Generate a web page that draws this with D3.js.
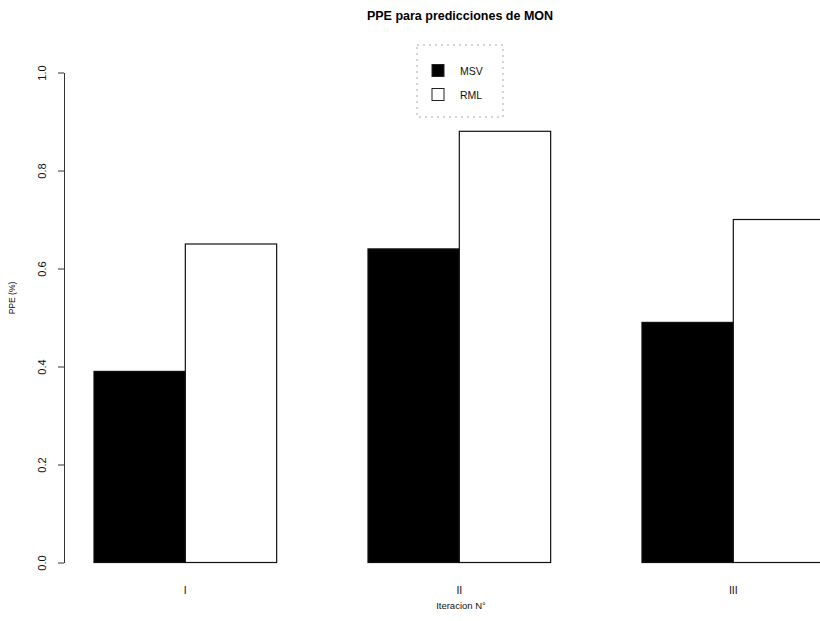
<!DOCTYPE html>
<html>
<head>
<meta charset="utf-8">
<script src="https://cdn.jsdelivr.net/npm/d3@7"></script>
<style>
  html, body { margin: 0; padding: 0; background: #fff; }
  svg { display: block; font-family: "Liberation Sans", Arial, sans-serif; }
</style>
</head>
<body>
<svg id="chart" width="820" height="621"></svg>
<script>
// Iterations and PPE values per method
const iterations = ["I", "II", "III"];
const seriesNames = ["MSV", "RML"];
const msvValues = [0.39, 0.64, 0.49];
const rmlValues = [0.65, 0.88, 0.70];
const yTicks = [0.0, 0.2, 0.4, 0.6, 0.8, 1.0];
const seriesFill = ["#000000", "#ffffff"];

const svg = d3.select("#chart");

// Bar slots: each bar is one unit wide, groups separated by one empty unit
const x = d3.scaleLinear().domain([1, 9]).range([94, 94 + 8 * 91.33]);
const y = d3.scaleLinear().domain([0, 1]).range([562.5, 72.5]);

const rows = iterations.map((it, i) => ({
  label: it,
  start: 1 + i * 3,
  values: [msvValues[i], rmlValues[i]]
}));

// Bars
const groups = svg.append("g").selectAll("g").data(rows).join("g");
groups.selectAll("rect")
  .data(d => d.values.map((v, j) => ({ v, j, left: d.start + j })))
  .join("rect")
  .attr("x", d => x(d.left))
  .attr("y", d => y(d.v))
  .attr("width", d => x(d.left + 1) - x(d.left))
  .attr("height", d => y(0) - y(d.v))
  .attr("fill", d => seriesFill[d.j])
  .attr("stroke", "#111")
  .attr("stroke-width", 1.2);

// Category labels under each group
svg.append("g").selectAll("text").data(rows).join("text")
  .attr("x", d => x(d.start + 1))
  .attr("y", 594)
  .attr("text-anchor", "middle")
  .attr("font-size", 10.5)
  .attr("fill", "#111")
  .text(d => d.label);

// Y axis with vertical tick labels
const yAxis = svg.append("g")
  .attr("transform", "translate(64,0)")
  .call(d3.axisLeft(y).tickValues(yTicks).tickSize(6).tickSizeOuter(0).tickFormat(d3.format(".1f")));
yAxis.select(".domain").attr("stroke", "#333");
yAxis.selectAll(".tick line").attr("stroke", "#333");
yAxis.selectAll(".tick text")
  .attr("x", 0).attr("y", 0).attr("dy", null)
  .attr("text-anchor", "middle")
  .attr("transform", "translate(-18,0) rotate(-90)")
  .attr("font-size", 11)
  .attr("font-family", "\"Liberation Sans\", Arial, sans-serif")
  .attr("fill", "#111");

// Axis titles
svg.append("text")
  .attr("transform", "translate(15,298) rotate(-90)")
  .attr("text-anchor", "middle")
  .attr("font-size", 8.5)
  .attr("fill", "#111")
  .text("PPE (%)");

svg.append("text")
  .attr("x", 461)
  .attr("y", 609)
  .attr("text-anchor", "middle")
  .attr("font-size", 9.5)
  .attr("fill", "#111")
  .text("Iteracion N°");

// Title
svg.append("text")
  .attr("x", 460)
  .attr("y", 20)
  .attr("text-anchor", "middle")
  .attr("font-size", 12.5)
  .attr("font-weight", "bold")
  .attr("fill", "#000")
  .text("PPE para predicciones de MON");

// Legend
const legend = svg.append("g");
legend.append("rect")
  .attr("x", 417).attr("y", 45).attr("width", 86).attr("height", 72)
  .attr("fill", "none")
  .attr("stroke", "#aaa")
  .attr("stroke-width", 1)
  .attr("stroke-dasharray", "2,4");
const items = legend.selectAll("g.item").data(seriesNames).join("g")
  .attr("class", "item")
  .attr("transform", (d, i) => `translate(0,${i * 24})`);
items.append("rect")
  .attr("x", 432).attr("y", 64.5).attr("width", 12).attr("height", 12)
  .attr("fill", (d, i) => seriesFill[i])
  .attr("stroke", "#222").attr("stroke-width", 1);
items.append("text")
  .attr("x", 460).attr("y", 75)
  .attr("font-size", 10.5)
  .attr("fill", "#111")
  .text(d => d);
</script>
</body>
</html>
